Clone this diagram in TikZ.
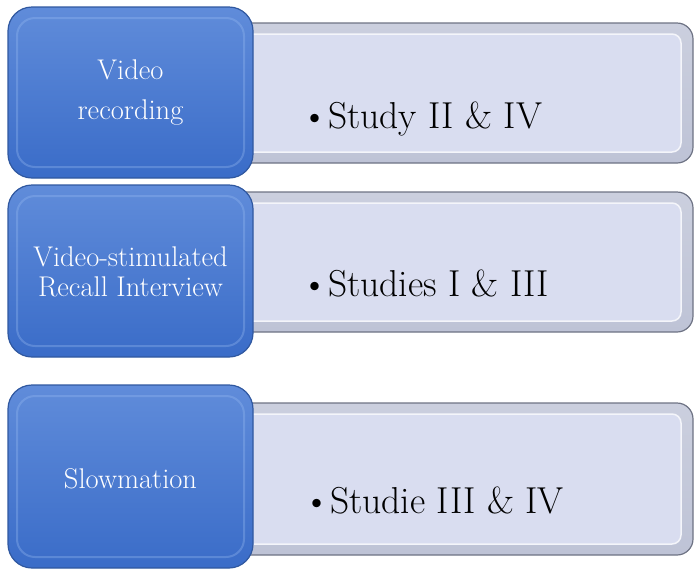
\documentclass[tikz,border=0pt]{standalone}
\usepackage{fontspec}
\setmainfont{Latin Modern Roman}
\usetikzlibrary{positioning}
\definecolor{bluetop}{RGB}{96,140,218}
\definecolor{bluebot}{RGB}{58,108,200}
\definecolor{blueedge}{RGB}{48,88,160}
\definecolor{bluehi}{RGB}{150,185,240}
\definecolor{faceC}{RGB}{217,221,240}
\definecolor{bevelC}{RGB}{190,195,214}
\definecolor{edgeC}{RGB}{110,115,132}
\tikzset{
  bluebox/.style={draw=blueedge, line width=1.2pt, rounded corners=24pt,
    top color=bluetop, bottom color=bluebot},
  bluetext/.style={text=white, align=center, inner sep=0pt},
  greybox/.style={draw=edgeC, line width=1.2pt, rounded corners=16pt,
    top color=bevelC!80!white, bottom color=bevelC},
  greyface/.style={fill=faceC, draw=white!70!faceC, line width=1.5pt, rounded corners=9pt},
  studytext/.style={anchor=base west, font=\fontsize{37.5}{40}\selectfont, inner sep=0pt}
}
\begin{document}
\begin{tikzpicture}[x=1pt,y=-1pt]
\useasboundingbox (0,0) rectangle (694,571);
% right boxes
\foreach \t/\b in {23/163, 192/332, 403/555}{
  \path[greybox] (225,\t) rectangle (693,\b);
  \path[greyface] (238,\t+11) rectangle (681,\b-11);
}
\node[studytext] (s1) at (301,128) {\textbullet{}Study II \& IV};
\node[studytext] (s2) at (301,296) {\textbullet{}Studies I \& III};
\node[studytext] (s3) at (303,513) {\textbullet{}Studie III \& IV};
% blue boxes
\foreach \t/\b in {7/178, 185/357, 385/568}{
  \path[bluebox] (8,\t) rectangle (253,\b);
  \draw[bluehi, line width=2pt, rounded corners=18pt, opacity=0.35] (17,\t+11) rectangle (244,\b-11);
}
\node[bluetext, font=\fontsize{28.5}{40}\selectfont] (b1) at (130.5,93) {Video\\recording};
\node[bluetext, font=\fontsize{28.5}{30}\selectfont] (b2) at (130.5,272) {Video-stimulated\\Recall Interview};
\node[bluetext, font=\fontsize{28.5}{30}\selectfont] (b3) at (130.5,479) {Slowmation};
\end{tikzpicture}
\end{document}
